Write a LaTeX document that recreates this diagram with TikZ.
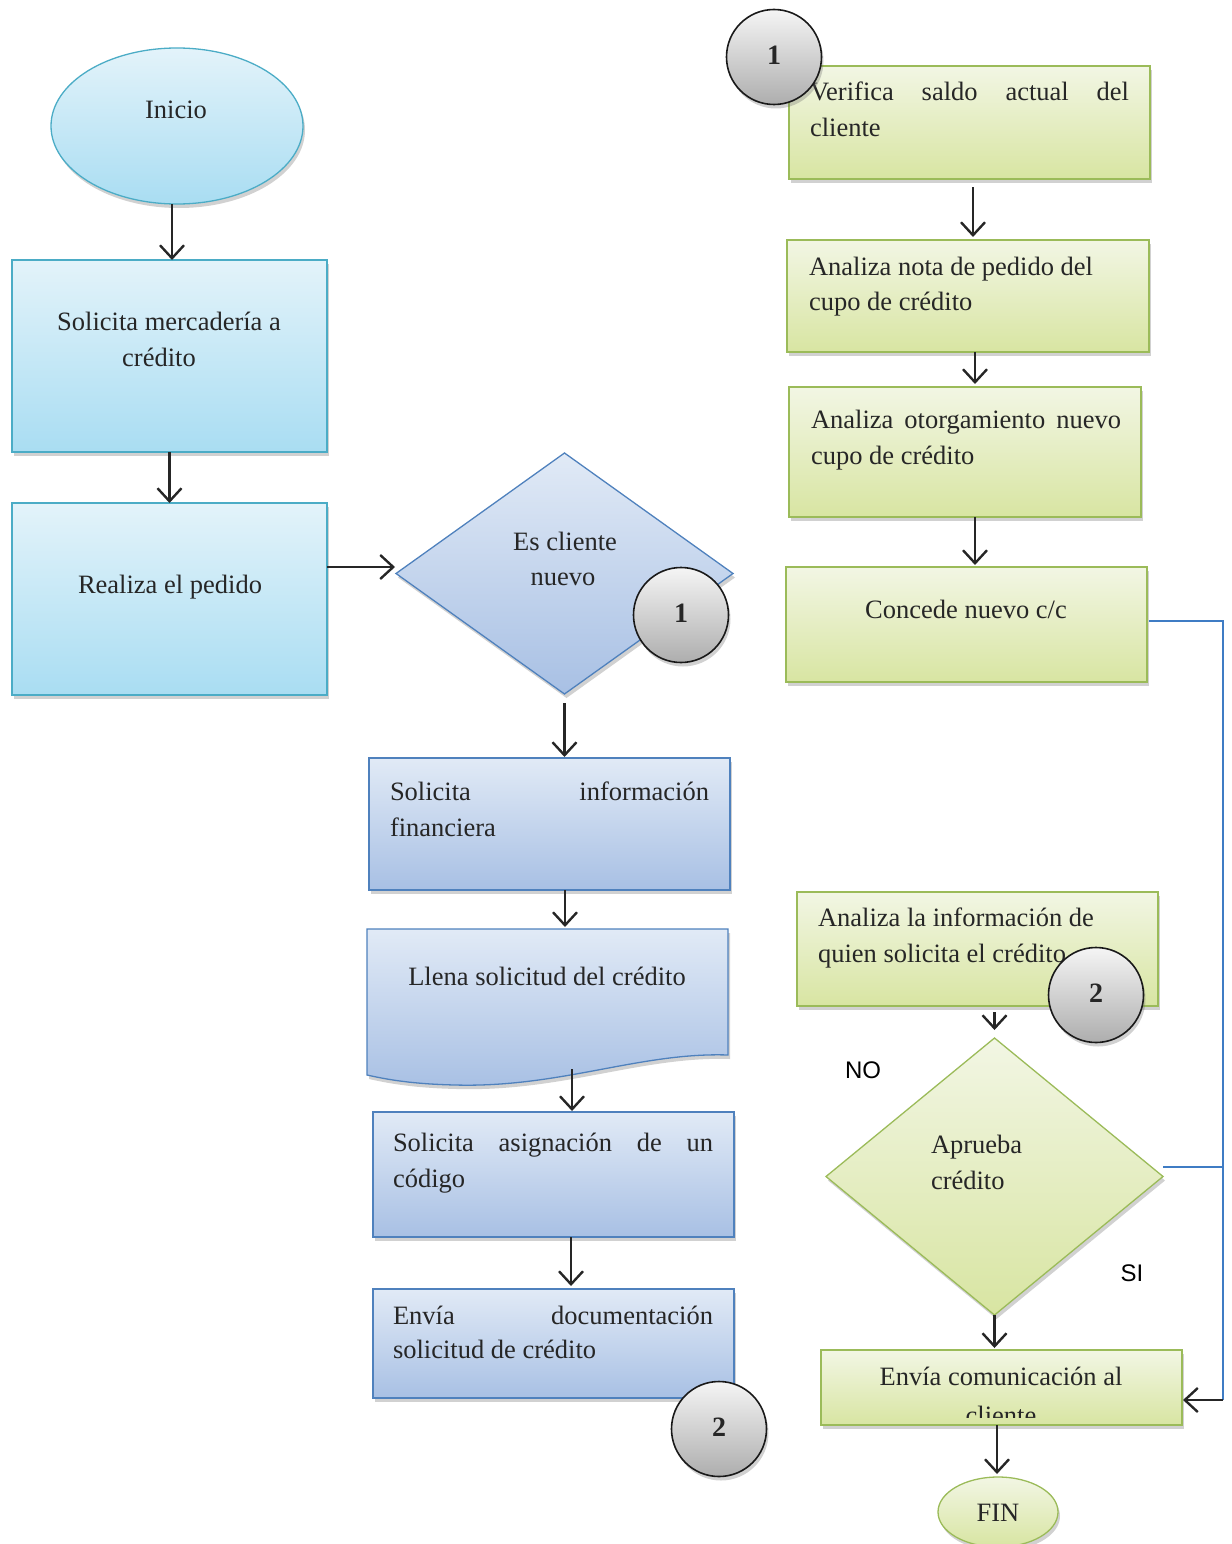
\documentclass[tikz,border=0pt]{standalone}
\usepackage{fontspec}
\setmainfont{Liberation Serif}
\newfontfamily\labelsans{Liberation Sans}
\usetikzlibrary{shapes.geometric,arrows.meta,shadows}

\definecolor{cyanline}{HTML}{4BACC6}
\definecolor{cyantop}{HTML}{E3F3FA}
\definecolor{cyanbot}{HTML}{A9DDF2}
\definecolor{blueline}{HTML}{4F81BD}
\definecolor{bluetop}{HTML}{E1EAF6}
\definecolor{bluebot}{HTML}{A8C0E4}
\definecolor{greenline}{HTML}{9BBB59}
\definecolor{greentop}{HTML}{F2F6E4}
\definecolor{greenbot}{HTML}{D8E5A2}
\definecolor{linkblue}{HTML}{3F7CC4}
\definecolor{ink}{HTML}{262626}

\tikzset{
  softshadow/.style={drop shadow={shadow xshift=2pt, shadow yshift=-4pt, opacity=0.3, fill=black!60}},
  shapebase/.style={inner sep=0pt, outer sep=0pt, line width=1.3pt, softshadow},
  cyanbox/.style={shapebase, rectangle, draw=cyanline, top color=cyantop, bottom color=cyanbot},
  bluebox/.style={shapebase, rectangle, draw=blueline, top color=bluetop, bottom color=bluebot},
  greenbox/.style={shapebase, rectangle, draw=greenline, top color=greentop, bottom color=greenbot},
  conn/.style={circle, draw=black!90, line width=1.6pt, top color=black!4, bottom color=black!32,
    inner sep=0pt, outer sep=0pt, minimum size=95pt, text=ink,
    font=\fontsize{28}{30}\selectfont\bfseries, softshadow},
  arr/.style={draw=ink, line width=2.4pt, -{Straight Barb[length=13pt,width=24pt,line width=2.4pt]}},
  link/.style={draw=linkblue, line width=1.6pt},
  txt/.style={inner sep=0pt, outer sep=0pt, text=ink, font=\fontsize{26.5}{36}\selectfont},
  lbl/.style={inner sep=0pt, outer sep=0pt, text=black, font=\labelsans\fontsize{24}{26}\selectfont},
}

\begin{document}
\begin{tikzpicture}[x=1pt,y=-1pt]
\useasboundingbox (0,0) rectangle (1231,1544);

% ---------- left column ----------
\node[cyanbox, ellipse, minimum width=252pt, minimum height=156pt] (ini) at (177,126) {};
\node[cyanbox, minimum width=315pt, minimum height=192pt] (b1) at (169.5,356) {};
\node[cyanbox, minimum width=315pt, minimum height=192pt] (b2) at (169.5,599) {};

\node[txt, anchor=base] (tini) at (176,119) {Inicio};
\node[txt, anchor=base] (tb1a) at (169,330) {Solicita mercadería a};
\node[txt, anchor=base] (tb1b) at (159,366) {crédito};
\node[txt, anchor=base] (tb2) at (170,593) {Realiza el pedido};

% ---------- middle column ----------
\node[bluebox, diamond, minimum width=337pt, minimum height=241pt] (d1) at (564.5,573.5) {};
\node[bluebox, minimum width=361pt, minimum height=132pt] (b3) at (549.5,824) {};

% document shape with wavy base
\path[bluebox] (367,929) -- (728,929) -- (728,1055)
  .. controls (640,1052) and (560,1088) .. (455,1085)
  .. controls (410,1084) and (385,1079) .. (367,1075) -- cycle;
\node[inner sep=0pt, outer sep=0pt, minimum width=361pt, minimum height=126pt] (doc) at (547.5,992) {};
\coordinate (docb) at (572,1069);

\node[bluebox, minimum width=361pt, minimum height=125pt] (b4) at (553.5,1174.5) {};
\node[bluebox, minimum width=361pt, minimum height=109pt] (b5) at (553.5,1343.5) {};

\node[txt, anchor=base] (td1a) at (565,550) {Es cliente};
\node[txt, anchor=base] (td1b) at (563,585) {nuevo};
\node[txt, anchor=base west] (tb3a) at (390,800) {\makebox[319pt][s]{Solicita información}};
\node[txt, anchor=base west] (tb3b) at (390,836) {financiera};
\node[txt, anchor=base] (tdoc) at (547,985) {Llena solicitud del crédito};
\node[txt, anchor=base west] (tb4a) at (393,1151) {\makebox[320pt][s]{Solicita asignación de un}};
\node[txt, anchor=base west] (tb4b) at (393,1187) {código};
\node[txt, anchor=base west] (tb5a) at (393,1324) {\makebox[320pt][s]{Envía documentación}};
\node[txt, anchor=base west] (tb5b) at (393,1358) {solicitud de crédito};

% ---------- right column ----------
\node[greenbox, minimum width=361pt, minimum height=113pt] (g1) at (969.5,122.5) {};
\node[greenbox, minimum width=362pt, minimum height=112pt] (g2) at (968,296) {};
\node[greenbox, minimum width=352pt, minimum height=130pt] (g3) at (965,452) {};
\node[greenbox, minimum width=361pt, minimum height=115pt] (g4) at (966.5,624.5) {};
\node[greenbox, minimum width=361pt, minimum height=114pt] (g5) at (977.5,949) {};
\node[greenbox, diamond, minimum width=337pt, minimum height=277pt] (d2) at (994.5,1176.5) {};
\node[greenbox, minimum width=361pt, minimum height=75pt] (g6) at (1001.5,1387.5) {};
\node[greenbox, ellipse, minimum width=120pt, minimum height=70pt] (fin) at (998,1512) {};

\node[txt, anchor=base west] (tg1a) at (810,101) {\makebox[319pt][s]{Verifica saldo actual del}};
\node[txt, anchor=base west] (tg1b) at (810,137) {cliente};
\node[txt, anchor=base west] (tg2a) at (809,275) {Analiza nota de pedido del};
\node[txt, anchor=base west] (tg2b) at (809,310) {cupo de crédito};
\node[txt, anchor=base west] (tg3a) at (811,428) {\makebox[310pt][s]{Analiza otorgamiento nuevo}};
\node[txt, anchor=base west] (tg3b) at (811,464) {cupo de crédito};
\node[txt, anchor=base] (tg4) at (966,618) {Concede nuevo c/c};
\node[txt, anchor=base west] (tg5a) at (818,926) {Analiza la información de};
\node[txt, anchor=base west] (tg5b) at (818,962) {quien solicita el crédito};
\node[txt, anchor=base west] (td2a) at (931,1153) {Aprueba};
\node[txt, anchor=base west] (td2b) at (931,1189) {crédito};
\node[txt, anchor=base] (tg6a) at (1001,1385) {Envía comunicación al};
\begin{scope}
  \clip (821,1350) rectangle (1182,1417);
  \node[txt, anchor=base] (tg6b) at (1001,1424) {cliente};
\end{scope}
\node[txt, anchor=base] (tfin) at (998,1521) {FIN};

\node[lbl, anchor=base] (lno) at (863,1078) {NO};
\node[lbl, anchor=base] (lsi) at (1132,1281) {SI};

% ---------- connectors ----------
\draw[arr] ([xshift=-5pt]ini.south) -- ([xshift=-5pt]ini.south |- b1.north);
\draw[arr] (b1.south) -- (b1.south |- b2.north);
\draw[arr] ([yshift=32pt]b2.east) -- ([yshift=32pt,xshift=-1pt]b2.east -| d1.west);
\draw[arr] ([yshift=-9pt]d1.south) -- ([yshift=1pt]d1.south |- b3.north);
\draw[arr] ([xshift=15.5pt]b3.south) -- ([xshift=15.5pt,yshift=2pt]b3.south |- doc.north);
\draw[arr] (docb) -- ([yshift=1pt]docb |- b4.north);
\draw[arr] ([xshift=17.5pt]b4.south) -- ([xshift=17.5pt,yshift=3pt]b4.south |- b5.north);

\draw[arr] ([xshift=3.5pt,yshift=-8pt]g1.south) -- ([xshift=3.5pt,yshift=3pt]g1.south |- g2.north);
\draw[arr] ([xshift=7pt]g2.south) -- ([xshift=7pt,yshift=3pt]g2.south |- g3.north);
\draw[arr] ([xshift=10pt]g3.south) -- ([xshift=10pt,yshift=2pt]g3.south |- g4.north);
\draw[arr] ([yshift=-6pt]d2.north |- g5.south) -- ([yshift=8pt]d2.north);
\draw[arr] (d2.south) -- ([yshift=2pt]d2.south |- g6.north);
\draw[arr] ([xshift=-4.5pt]g6.south) -- ([xshift=-4.5pt,yshift=3pt]g6.south |- fin.north);

\coordinate (rt) at (1223,621);
\coordinate (rb) at (1223,1400);
\draw[link] ([yshift=3.5pt,xshift=2pt]g4.east) -- (rt) -- (rb);
\draw[link] ([yshift=9.5pt]d2.east) -- ([yshift=9.5pt]d2.east -| rt);
\draw[arr, shorten >=1pt] (rb) -- (rb -| g6.east);

% ---------- on-page connectors ----------
\node[conn] (c1a) at (681,615) {\raisebox{4pt}{1}};
\node[conn] (c2a) at (719,1429) {\raisebox{4pt}{2}};
\node[conn] (c1b) at (774,57) {\raisebox{4pt}{1}};
\node[conn] (c2b) at (1096,995) {\raisebox{4pt}{2}};

\end{tikzpicture}
\end{document}
